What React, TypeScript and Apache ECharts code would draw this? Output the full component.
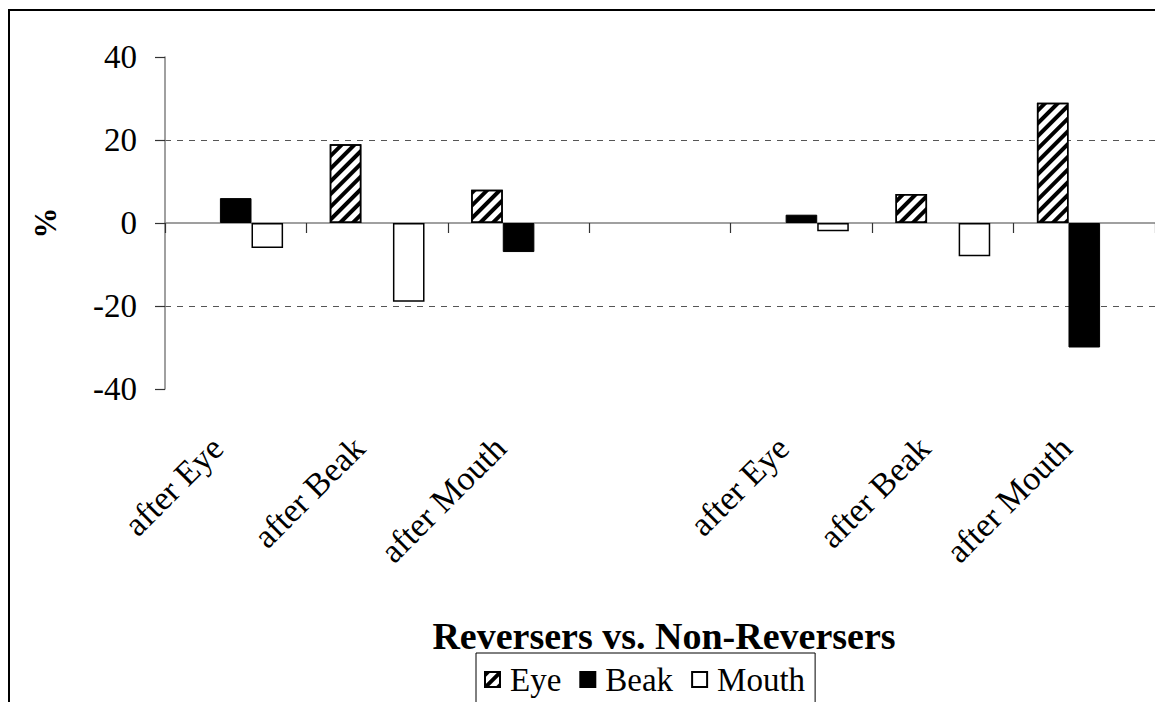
import React, { useEffect, useRef } from "react";
import * as echarts from "echarts";

// Category slots along the x axis (the empty slot separates the two halves)
const categories = [
  "after Eye",
  "after Beak",
  "after Mouth",
  "",
  "after Eye",
  "after Beak",
  "after Mouth",
];

// Percent differences per feature (null = no bar)
const eyeValues = [null, 19, 8, null, null, 7, 29];
const beakValues = [6, null, -7, null, 2, null, -30];
const mouthValues = [-6, -19, null, null, -2, -8, null];

const yTicks = [-40, -20, 0, 20, 40];

const chartTitle = "Reversers vs. Non-Reversers";
const yName = "%";

const FONT = "'Liberation Serif', 'Times New Roman', Times, serif";

export default function App() {
  const ref = useRef<HTMLDivElement>(null);

  useEffect(() => {
    if (!ref.current) return;
    const chart = echarts.init(ref.current, null, { renderer: "svg" });

    const gridLeft = 165;
    const gridTop = 57;
    const gridRight = 0;
    const gridBottom = 313;

    const hatch = {
      symbol: "rect",
      symbolSize: 1,
      color: "#000",
      backgroundColor: "#fff",
      dashArrayX: [1, 0],
      dashArrayY: [4, 5],
      rotation: -Math.PI / 4,
    };

    const option: any = {
      animation: false,
      backgroundColor: "#fff",
      textStyle: { fontFamily: FONT },
      title: {
        text: chartTitle,
        left: 659,
        textAlign: "center",
        top: 612,
        textStyle: {
          fontFamily: FONT,
          fontSize: 38,
          fontWeight: "bold",
          color: "#000",
        },
      },
      legend: {
        data: ["Eye", "Beak", "Mouth"],
        left: 476,
        top: 653,
        icon: "rect",
        itemWidth: 15,
        itemHeight: 15,
        itemGap: 18,
        padding: [10, 10, 20, 8],
        borderColor: "#000",
        borderWidth: 1,
        textStyle: { fontFamily: FONT, fontSize: 33, color: "#000", padding: [0, 0, 0, 5] },
      },
      grid: {
        left: gridLeft,
        top: gridTop,
        right: gridRight,
        bottom: gridBottom,
        containLabel: false,
      },
      xAxis: [
        {
          type: "category",
          data: categories,
          boundaryGap: true,
          axisLine: { onZero: true, lineStyle: { color: "#808080", width: 1.5 } },
          axisTick: { show: true, length: 10, lineStyle: { color: "#333", width: 1.2 } },
          axisLabel: { show: false },
          splitLine: { show: false },
        },
        {
          type: "category",
          data: categories,
          position: "bottom",
          boundaryGap: true,
          axisLine: { show: false },
          axisTick: { show: false },
          axisLabel: {
            show: true,
            interval: 0,
            rotate: 45,
            margin: 35,
            padding: [0, 26, 0, 0],
            fontFamily: FONT,
            fontSize: 34,
            color: "#000",
          },
        },
      ],
      yAxis: {
        type: "value",
        min: yTicks[0],
        max: yTicks[yTicks.length - 1],
        interval: 20,
        name: yName,
        nameLocation: "middle",
        nameGap: 104,
        nameRotate: 90,
        nameTextStyle: { fontFamily: FONT, fontSize: 31, fontWeight: "bold", color: "#000" },
        axisLine: { show: true, lineStyle: { color: "#808080", width: 1.5 } },
        axisTick: { show: true, length: 10, lineStyle: { color: "#333", width: 1.2 } },
        axisLabel: { margin: 28, fontFamily: FONT, fontSize: 33, color: "#000" },
        splitLine: {
          show: true,
          lineStyle: {
            color: ["rgba(0,0,0,0)", "#555", "rgba(0,0,0,0)", "#555", "rgba(0,0,0,0)"],
            type: [6, 6],
            width: 1,
          },
        },
      },
      series: [
        {
          name: "Eye",
          type: "bar",
          xAxisIndex: 0,
          data: eyeValues,
          barGap: "0%",
          barCategoryGap: "33%",
          itemStyle: { color: "#fff", borderColor: "#000", borderWidth: 1.5, decal: hatch },
        },
        {
          name: "Beak",
          type: "bar",
          xAxisIndex: 0,
          data: beakValues,
          barGap: "0%",
          barCategoryGap: "33%",
          itemStyle: { color: "#000", borderColor: "#000", borderWidth: 1 },
        },
        {
          name: "Mouth",
          type: "bar",
          xAxisIndex: 0,
          data: mouthValues,
          barGap: "0%",
          barCategoryGap: "33%",
          itemStyle: { color: "#fff", borderColor: "#000", borderWidth: 1.5 },
        },
      ],
      graphic: [
        {
          type: "rect",
          silent: true,
          z: 100,
          shape: { x: 9, y: 10, width: 1400, height: 1000 },
          style: { fill: "none", stroke: "#000", lineWidth: 2 },
        },
      ],
    };

    chart.setOption(option);
    return () => chart.dispose();
  }, []);

  return (
    <div
      ref={ref}
      style={{ position: "absolute", left: 0, top: 0, width: 1155, height: 702 }}
    />
  );
}
